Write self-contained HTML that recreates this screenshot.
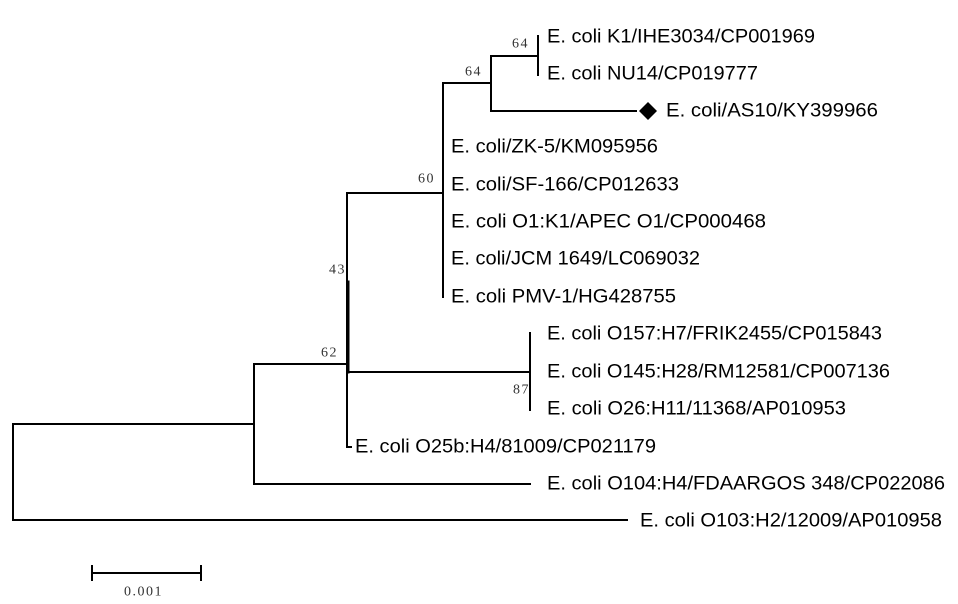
<!DOCTYPE html>
<html><head><meta charset="utf-8"><style>body{margin:0;background:#fff}svg{display:block}</style></head><body>
<svg width="958" height="604" xmlns="http://www.w3.org/2000/svg">
<g stroke="#000" stroke-width="2" fill="none" stroke-linecap="square">
<path d="M13 424V520H627M13 424H254M254 364V484H530M254 364H347M347 193V447H351M347 372H530M530 333V410M347 193H443M443 83V297M443 83H491M491 56V111H636M491 56H538M538 36V75"/>
<path d="M348 282V372" stroke-width="3"/>
<path d="M92 573H201M92 566V580M201 566V580"/>
</g>
<path d="M648 102L657 111L648 120L639 111Z" fill="#000"/>
<g font-family="Liberation Sans, sans-serif" font-size="19" fill="#000" dominant-baseline="central" lengthAdjust="spacingAndGlyphs">
<text x="547" y="37" textLength="268" lengthAdjust="spacingAndGlyphs">E. coli K1/IHE3034/CP001969</text>
<text x="547" y="74" textLength="211" lengthAdjust="spacingAndGlyphs">E. coli NU14/CP019777</text>
<text x="666" y="111" textLength="212" lengthAdjust="spacingAndGlyphs">E. coli/AS10/KY399966</text>
<text x="451" y="147" textLength="207" lengthAdjust="spacingAndGlyphs">E. coli/ZK-5/KM095956</text>
<text x="451" y="185" textLength="228" lengthAdjust="spacingAndGlyphs">E. coli/SF-166/CP012633</text>
<text x="451" y="222" textLength="315" lengthAdjust="spacingAndGlyphs">E. coli O1:K1/APEC O1/CP000468</text>
<text x="451" y="259" textLength="249" lengthAdjust="spacingAndGlyphs">E. coli/JCM 1649/LC069032</text>
<text x="451" y="297" textLength="225" lengthAdjust="spacingAndGlyphs">E. coli PMV-1/HG428755</text>
<text x="547" y="334" textLength="335" lengthAdjust="spacingAndGlyphs">E. coli O157:H7/FRIK2455/CP015843</text>
<text x="547" y="372" textLength="343" lengthAdjust="spacingAndGlyphs">E. coli O145:H28/RM12581/CP007136</text>
<text x="547" y="409" textLength="299" lengthAdjust="spacingAndGlyphs">E. coli O26:H11/11368/AP010953</text>
<text x="355" y="447" textLength="301" lengthAdjust="spacingAndGlyphs">E. coli O25b:H4/81009/CP021179</text>
<text x="547" y="484" textLength="398" lengthAdjust="spacingAndGlyphs">E. coli O104:H4/FDAARGOS 348/CP022086</text>
<text x="640" y="521" textLength="302" lengthAdjust="spacingAndGlyphs">E. coli O103:H2/12009/AP010958</text>
</g>
<g font-family="Liberation Serif, serif" font-size="14" fill="#333" dominant-baseline="central" letter-spacing="1.5">
<text x="512" y="44">64</text>
<text x="465" y="72">64</text>
<text x="418" y="179">60</text>
<text x="329" y="270">43</text>
<text x="321" y="353">62</text>
<text x="513" y="390">87</text>
<text x="124" y="592">0.001</text>
</g>
</svg>
</body></html>
